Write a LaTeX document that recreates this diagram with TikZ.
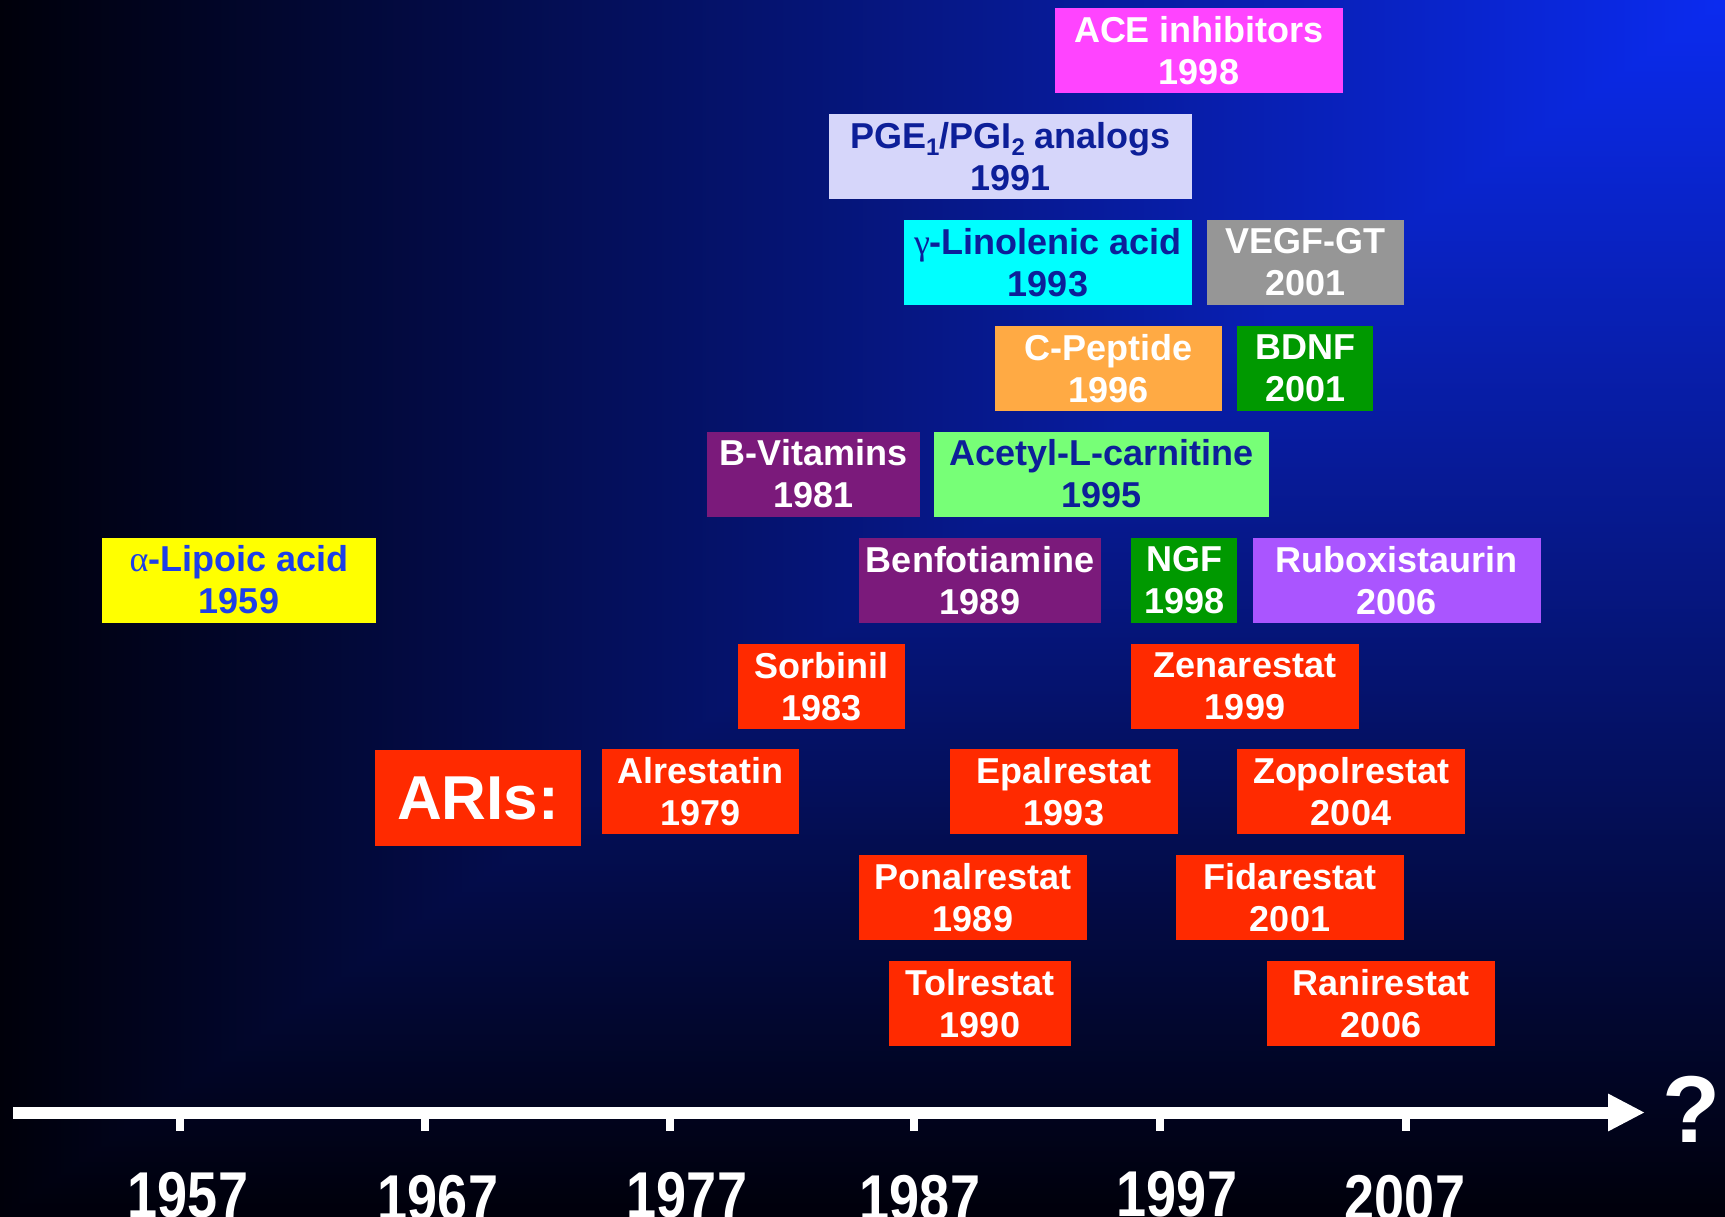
\documentclass[tikz,border=0pt]{standalone}
\usepackage{fontspec}
\setmainfont{Liberation Sans}
\newfontfamily\greekface{Liberation Serif}
\usepackage{xcolor}
\usepackage{tikz}
\usetikzlibrary{arrows.meta,positioning}

\definecolor{bgnear}{HTML}{0B2BF0}
\definecolor{bgmid}{HTML}{00138E}
\definecolor{bgfar}{HTML}{00000A}
\definecolor{arired}{HTML}{FF2A00}
\definecolor{acepink}{HTML}{FF44FF}
\definecolor{pgelilac}{HTML}{D6D6FA}
\definecolor{glacyan}{HTML}{00FFFF}
\definecolor{vegfgrey}{HTML}{969696}
\definecolor{cpeporange}{HTML}{FFAA44}
\definecolor{nfgreen}{HTML}{009900}
\definecolor{vitpurple}{HTML}{7B1A7B}
\definecolor{alcgreen}{HTML}{77FF77}
\definecolor{alayellow}{HTML}{FFFF00}
\definecolor{rbxviolet}{HTML}{AA55FF}
\definecolor{inkblue}{HTML}{0D1F99}
\definecolor{alablue}{HTML}{1E3FE8}

\newcommand{\drugfont}{\fontsize{36}{42}\selectfont\bfseries}
\newcommand{\lowidx}[1]{\raisebox{-7pt}{\fontsize{24}{24}\selectfont #1}}

\tikzset{
  drug/.style={rectangle, inner sep=0pt, minimum height=85pt, align=center,
               font=\drugfont, text=white},
  ari/.style={drug, fill=arired},
  darkink/.style={drug, text=inkblue},
  yearlbl/.style={font=\fontsize{54}{54}\selectfont\bfseries, text=white,
                  anchor=base, inner sep=0pt},
  axisline/.style={draw=white, line width=12pt, -{Triangle[length=37pt, width=35pt]}},
  tickmark/.style={draw=white, line width=8pt}
}

\begin{document}
\begin{tikzpicture}[x=1pt, y=-1pt]
\useasboundingbox (0,0) rectangle (1725,1217);
\clip (0,0) rectangle (1725,1217);

% --- background, brightest in the top right corner
\shade[left color=bgfar, middle color=bgmid, right color=bgnear] (0,0) rectangle (1725,1217);
\shade[top color=bgnear, middle color=bgmid, bottom color=bgfar] (1725,0) -- (1725,1217) -- (0,1217) -- cycle;

% --- other treatments
\node[drug, fill=acepink, minimum width=288pt] (ace) at (1199,50.8) {ACE inhibitors\\1998};
\node[darkink, fill=pgelilac, minimum width=363pt] (pge) at (1010.5,157) {PGE\lowidx{1}/PGI\lowidx{2} analogs\\1991};
\node[darkink, fill=glacyan, minimum width=288pt] (gla) at (1048,262.5) {{\greekface\mdseries γ}-Linolenic acid\\1993};
\node[drug, fill=vegfgrey, minimum width=197pt, right=15pt of gla] (vegf) {VEGF-GT\\2001};
\node[drug, fill=cpeporange, minimum width=227pt] (cpep) at (1108.5,368.5) {C-Peptide\\1996};
\node[drug, fill=nfgreen, minimum width=136pt, right=15pt of cpep] (bdnf) {BDNF\\2001};
\node[drug, fill=vitpurple, minimum width=213pt] (bvit) at (813.5,474) {B-Vitamins\\1981};
\node[darkink, fill=alcgreen, minimum width=335pt, right=14pt of bvit] (alc) {Acetyl-L-carnitine\\1995};
\node[drug, text=alablue, fill=alayellow, minimum width=274pt] (ala) at (239,580) {{\greekface\mdseries α}-Lipoic acid\\1959};
\node[drug, fill=vitpurple, minimum width=242pt] (benfo) at (980,580.5) {Benfotiamine\\1989};
\node[drug, fill=nfgreen, minimum width=106pt, right=30pt of benfo] (ngf) {NGF\\1998};
\node[drug, fill=rbxviolet, minimum width=288pt, right=15pt of ngf] (rbx) {Ruboxistaurin\\2006};

% --- aldose reductase inhibitors
\node[ari, minimum height=96pt, minimum width=206pt, font=\fontsize{62}{62}\selectfont\bfseries] (aris) at (478,798) {ARIs:};
\node[ari, minimum width=167pt] (sorb) at (821.5,686.5) {Sorbinil\\1983};
\node[ari, minimum width=228pt] (zena) at (1245,686.5) {Zenarestat\\1999};
\node[ari, minimum width=197pt] (alre) at (700.5,791.5) {Alrestatin\\1979};
\node[ari, minimum width=228pt] (epal) at (1064,791.5) {Epalrestat\\1993};
\node[ari, minimum width=228pt] (zopo) at (1351,791.5) {Zopolrestat\\2004};
\node[ari, minimum width=228pt] (pona) at (973,897.5) {Ponalrestat\\1989};
\node[ari, minimum width=228pt] (fida) at (1290,897.5) {Fidarestat\\2001};
\node[ari, minimum width=182pt] (tolr) at (980,1003.5) {Tolrestat\\1990};
\node[ari, minimum width=228pt] (rani) at (1381,1003.5) {Ranirestat\\2006};

% --- time axis
\coordinate (axstart) at (13,1112.5);
\coordinate (axend) at (1645,1112.5);
\foreach \tx/\yr/\lx/\ly in {180/1957/188/1217, 425/1967/438/1220, 670/1977/687/1217,
                             914/1987/920/1220, 1160/1997/1177/1216, 1406/2007/1405/1220}{
  \coordinate (tk\yr) at (\tx,1112);
  \coordinate (tkend\yr) at (\tx,1131);
  \draw[tickmark] (tk\yr) -- (tkend\yr);
  \node[yearlbl] (yr\yr) at (\lx,\ly) {\scalebox{1}[1.2]{\yr}};
}
\draw[axisline] (axstart) -- (axend);
\node[font=\fontsize{95}{95}\selectfont\bfseries, text=white, anchor=base, inner sep=0pt] (ask) at (1691.5,1142) {?};
\end{tikzpicture}
\end{document}
